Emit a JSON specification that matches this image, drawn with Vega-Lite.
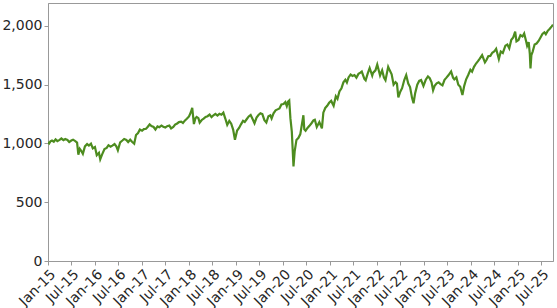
{
  "$schema": "https://vega.github.io/schema/vega-lite/v6.json",
  "width": 505,
  "height": 258,
  "autosize": {"type": "none"},
  "padding": {"left": 48, "top": 3, "right": 4, "bottom": 47},
  "background": "white",
  "config": {
    "view": {"stroke": "#999999", "strokeWidth": 1},
    "font": "DejaVu Sans"
  },
  "data": {"values": [
    {"d":"2015-01-01","v":1012},{"d":"2015-01-10","v":1000},{"d":"2015-01-20","v":1018},{"d":"2015-02-01","v":1025},{"d":"2015-02-15","v":1015},{"d":"2015-03-01","v":1035},{"d":"2015-03-15","v":1020},{"d":"2015-04-01","v":1030},{"d":"2015-04-15","v":1042},{"d":"2015-05-01","v":1028},{"d":"2015-05-15","v":1038},{"d":"2015-06-01","v":1030},{"d":"2015-06-15","v":1012},{"d":"2015-07-01","v":1025},{"d":"2015-07-15","v":1032},{"d":"2015-08-01","v":1020},{"d":"2015-08-15","v":1008},{"d":"2015-08-25","v":905},{"d":"2015-09-05","v":955},{"d":"2015-09-15","v":940},{"d":"2015-09-29","v":912},{"d":"2015-10-15","v":975},{"d":"2015-11-01","v":995},{"d":"2015-11-15","v":982},{"d":"2015-12-01","v":998},{"d":"2015-12-15","v":958},
    {"d":"2016-01-01","v":970},{"d":"2016-01-15","v":900},{"d":"2016-02-01","v":920},{"d":"2016-02-11","v":865},{"d":"2016-02-25","v":905},{"d":"2016-03-15","v":952},{"d":"2016-04-01","v":962},{"d":"2016-04-15","v":985},{"d":"2016-05-01","v":972},{"d":"2016-05-15","v":982},{"d":"2016-06-01","v":995},{"d":"2016-06-15","v":975},{"d":"2016-06-27","v":942},{"d":"2016-07-15","v":1010},{"d":"2016-08-01","v":1025},{"d":"2016-08-15","v":1038},{"d":"2016-09-01","v":1030},{"d":"2016-09-15","v":1012},{"d":"2016-10-01","v":1032},{"d":"2016-10-15","v":1015},{"d":"2016-11-01","v":998},{"d":"2016-11-15","v":1072},{"d":"2016-12-01","v":1088},{"d":"2016-12-15","v":1118},
    {"d":"2017-01-01","v":1108},{"d":"2017-01-15","v":1122},{"d":"2017-02-01","v":1125},{"d":"2017-02-15","v":1142},{"d":"2017-03-01","v":1162},{"d":"2017-03-15","v":1148},{"d":"2017-04-01","v":1140},{"d":"2017-04-15","v":1118},{"d":"2017-05-01","v":1145},{"d":"2017-05-15","v":1138},{"d":"2017-06-01","v":1152},{"d":"2017-06-15","v":1143},{"d":"2017-07-01","v":1135},{"d":"2017-07-15","v":1147},{"d":"2017-08-01","v":1152},{"d":"2017-08-15","v":1128},{"d":"2017-09-01","v":1140},{"d":"2017-09-15","v":1160},{"d":"2017-10-01","v":1170},{"d":"2017-10-15","v":1182},{"d":"2017-11-01","v":1186},{"d":"2017-11-15","v":1174},{"d":"2017-12-01","v":1196},{"d":"2017-12-15","v":1210},
    {"d":"2018-01-01","v":1230},{"d":"2018-01-15","v":1265},{"d":"2018-01-26","v":1302},{"d":"2018-02-08","v":1165},{"d":"2018-02-20","v":1215},{"d":"2018-03-01","v":1225},{"d":"2018-03-15","v":1215},{"d":"2018-03-25","v":1178},{"d":"2018-04-10","v":1200},{"d":"2018-04-25","v":1212},{"d":"2018-05-10","v":1226},{"d":"2018-05-25","v":1232},{"d":"2018-06-10","v":1246},{"d":"2018-06-25","v":1224},{"d":"2018-07-10","v":1240},{"d":"2018-07-25","v":1252},{"d":"2018-08-10","v":1238},{"d":"2018-08-25","v":1252},{"d":"2018-09-10","v":1244},{"d":"2018-09-25","v":1262},{"d":"2018-10-10","v":1212},{"d":"2018-10-25","v":1158},{"d":"2018-11-10","v":1192},{"d":"2018-11-25","v":1168},{"d":"2018-12-10","v":1118},{"d":"2018-12-24","v":1032},
    {"d":"2019-01-10","v":1110},{"d":"2019-01-25","v":1132},{"d":"2019-02-10","v":1165},{"d":"2019-02-25","v":1192},{"d":"2019-03-10","v":1183},{"d":"2019-03-25","v":1206},{"d":"2019-04-10","v":1230},{"d":"2019-04-25","v":1242},{"d":"2019-05-10","v":1208},{"d":"2019-05-25","v":1172},{"d":"2019-06-10","v":1220},{"d":"2019-06-25","v":1242},{"d":"2019-07-10","v":1256},{"d":"2019-07-25","v":1250},{"d":"2019-08-10","v":1198},{"d":"2019-08-25","v":1178},{"d":"2019-09-10","v":1232},{"d":"2019-09-25","v":1240},{"d":"2019-10-05","v":1212},{"d":"2019-10-20","v":1256},{"d":"2019-11-05","v":1282},{"d":"2019-11-20","v":1290},{"d":"2019-12-05","v":1298},{"d":"2019-12-20","v":1332},
    {"d":"2020-01-05","v":1335},{"d":"2020-01-20","v":1352},{"d":"2020-01-31","v":1318},{"d":"2020-02-10","v":1356},{"d":"2020-02-19","v":1366},{"d":"2020-02-28","v":1215},{"d":"2020-03-10","v":1100},{"d":"2020-03-23","v":805},{"d":"2020-04-01","v":930},{"d":"2020-04-15","v":1030},{"d":"2020-05-01","v":1048},{"d":"2020-05-15","v":1080},{"d":"2020-06-08","v":1240},{"d":"2020-06-15","v":1120},{"d":"2020-06-25","v":1108},{"d":"2020-07-10","v":1132},{"d":"2020-07-25","v":1150},{"d":"2020-08-10","v":1172},{"d":"2020-08-25","v":1196},{"d":"2020-09-05","v":1202},{"d":"2020-09-20","v":1140},{"d":"2020-10-10","v":1182},{"d":"2020-10-30","v":1128},{"d":"2020-11-10","v":1262},{"d":"2020-11-25","v":1302},{"d":"2020-12-10","v":1320},{"d":"2020-12-25","v":1346},
    {"d":"2021-01-10","v":1362},{"d":"2021-01-29","v":1320},{"d":"2021-02-15","v":1402},{"d":"2021-02-28","v":1380},{"d":"2021-03-15","v":1442},{"d":"2021-03-31","v":1470},{"d":"2021-04-15","v":1520},{"d":"2021-04-30","v":1542},{"d":"2021-05-12","v":1518},{"d":"2021-05-25","v":1562},{"d":"2021-06-10","v":1586},{"d":"2021-06-25","v":1574},{"d":"2021-07-10","v":1582},{"d":"2021-07-25","v":1560},{"d":"2021-08-10","v":1592},{"d":"2021-08-25","v":1602},{"d":"2021-09-05","v":1612},{"d":"2021-09-25","v":1550},{"d":"2021-10-05","v":1538},{"d":"2021-10-20","v":1592},{"d":"2021-11-05","v":1642},{"d":"2021-11-25","v":1578},{"d":"2021-12-01","v":1600},{"d":"2021-12-20","v":1622},
    {"d":"2022-01-03","v":1672},{"d":"2022-01-25","v":1578},{"d":"2022-02-10","v":1622},{"d":"2022-02-24","v":1560},{"d":"2022-03-08","v":1538},{"d":"2022-03-29","v":1652},{"d":"2022-04-10","v":1622},{"d":"2022-04-25","v":1588},{"d":"2022-05-10","v":1500},{"d":"2022-05-25","v":1522},{"d":"2022-06-05","v":1510},{"d":"2022-06-16","v":1392},{"d":"2022-07-01","v":1440},{"d":"2022-07-15","v":1470},{"d":"2022-08-01","v":1540},{"d":"2022-08-16","v":1582},{"d":"2022-09-01","v":1510},{"d":"2022-09-15","v":1480},{"d":"2022-09-30","v":1390},{"d":"2022-10-12","v":1342},{"d":"2022-10-25","v":1430},{"d":"2022-11-10","v":1500},{"d":"2022-11-25","v":1532},{"d":"2022-12-10","v":1540},{"d":"2022-12-28","v":1490},
    {"d":"2023-01-15","v":1542},{"d":"2023-02-01","v":1570},{"d":"2023-02-15","v":1555},{"d":"2023-03-01","v":1520},{"d":"2023-03-13","v":1452},{"d":"2023-03-25","v":1490},{"d":"2023-04-10","v":1512},{"d":"2023-04-25","v":1520},{"d":"2023-05-10","v":1505},{"d":"2023-05-25","v":1494},{"d":"2023-06-10","v":1542},{"d":"2023-06-25","v":1560},{"d":"2023-07-10","v":1580},{"d":"2023-07-31","v":1612},{"d":"2023-08-15","v":1560},{"d":"2023-08-25","v":1545},{"d":"2023-09-10","v":1562},{"d":"2023-09-25","v":1500},{"d":"2023-10-10","v":1482},{"d":"2023-10-27","v":1412},{"d":"2023-11-10","v":1490},{"d":"2023-11-25","v":1546},{"d":"2023-12-10","v":1580},{"d":"2023-12-28","v":1626},
    {"d":"2024-01-10","v":1610},{"d":"2024-01-25","v":1652},{"d":"2024-02-10","v":1680},{"d":"2024-02-25","v":1700},{"d":"2024-03-10","v":1722},{"d":"2024-03-28","v":1752},{"d":"2024-04-19","v":1690},{"d":"2024-05-01","v":1710},{"d":"2024-05-15","v":1742},{"d":"2024-05-31","v":1745},{"d":"2024-06-15","v":1772},{"d":"2024-06-30","v":1782},{"d":"2024-07-15","v":1805},{"d":"2024-08-05","v":1718},{"d":"2024-08-20","v":1782},{"d":"2024-09-05","v":1770},{"d":"2024-09-25","v":1832},{"d":"2024-10-10","v":1842},{"d":"2024-10-25","v":1810},{"d":"2024-11-10","v":1882},{"d":"2024-11-25","v":1902},{"d":"2024-12-10","v":1952},{"d":"2024-12-20","v":1868},
    {"d":"2025-01-05","v":1880},{"d":"2025-01-20","v":1922},{"d":"2025-02-05","v":1910},{"d":"2025-02-18","v":1936},{"d":"2025-03-05","v":1870},{"d":"2025-03-13","v":1830},{"d":"2025-03-25","v":1862},{"d":"2025-04-03","v":1760},{"d":"2025-04-08","v":1638},{"d":"2025-04-15","v":1752},{"d":"2025-04-25","v":1782},{"d":"2025-05-10","v":1842},{"d":"2025-05-25","v":1850},{"d":"2025-06-10","v":1872},{"d":"2025-06-25","v":1902},{"d":"2025-07-10","v":1932},{"d":"2025-07-25","v":1946},{"d":"2025-08-05","v":1930},{"d":"2025-08-20","v":1958},{"d":"2025-09-05","v":1976},{"d":"2025-09-20","v":1996},{"d":"2025-09-30","v":2010}
  ]},
  "mark": {"type": "line", "color": "#4d8c1f", "strokeWidth": 2.2, "clip": true},
  "encoding": {
    "x": {
      "field": "d", "type": "temporal",
      "scale": {"type": "utc", "domain": ["2015-01-01", "2025-09-30"], "nice": false},
      "axis": {
        "title": null, "grid": false, "format": "%b-%y",
        "tickCount": {"interval": "month", "step": 6},
        "labelAngle": -45, "labelAlign": "right", "labelBaseline": "top",
        "labelFontSize": 14, "labelColor": "#262626", "labelPadding": 2,
        "domainColor": "#999999", "tickColor": "#999999", "tickSize": 4,
        "labelOverlap": false, "labelFlush": false
      }
    },
    "y": {
      "field": "v", "type": "quantitative",
      "scale": {"domain": [0, 2195], "nice": false},
      "axis": {
        "title": null, "grid": false, "values": [0, 500, 1000, 1500, 2000], "format": ",.0f",
        "labelFontSize": 14, "labelColor": "#262626", "labelPadding": 2,
        "domainColor": "#999999", "tickColor": "#999999", "tickSize": 4,
        "labelOverlap": false, "labelFlush": false
      }
    }
  }
}
